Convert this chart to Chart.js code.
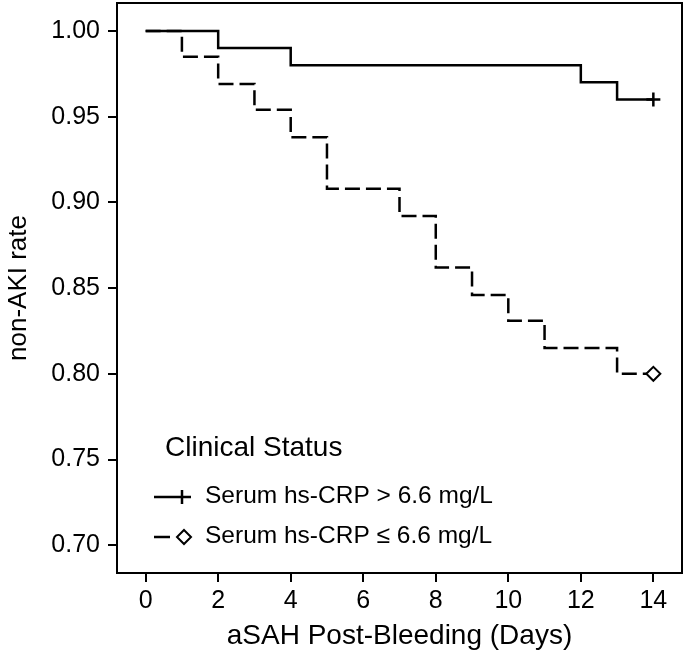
<!DOCTYPE html>
<html lang="en">
<head>
    <meta charset="UTF-8">
    <title>non-AKI rate by hs-CRP</title>
    <script src="https://cdn.jsdelivr.net/npm/chart.js"></script>
    <style>
        html, body { margin: 0; padding: 0; background: #fff; }
        #wrap { width: 685px; height: 653px; }
    </style>
</head>
<body>
    <div id="wrap"><canvas id="kmChart" width="685" height="653"></canvas></div>

    <script>
        // Kaplan-Meier style steps
        const highDays = [0, 2, 4, 12, 13, 14];
        const highRate = [1.00, 0.99, 0.98, 0.97, 0.96, 0.96];

        const lowDays = [0, 1, 2, 3, 4, 5, 7, 8, 9, 10, 11, 13, 14];
        const lowRate = [1.00, 0.985, 0.969, 0.954, 0.938, 0.908, 0.892, 0.862, 0.846, 0.831, 0.815, 0.800, 0.800];

        const xTicks = [0, 2, 4, 6, 8, 10, 12, 14];
        const yTicks = [0.70, 0.75, 0.80, 0.85, 0.90, 0.95, 1.00];

        const legendTitle = 'Clinical Status';
        const legendLabels = ['Serum hs-CRP > 6.6 mg/L', 'Serum hs-CRP \u2264 6.6 mg/L'];

        const FONT = '"Liberation Sans", Arial, Helvetica, sans-serif';

        const toPoints = (xs, ys) => xs.map((x, i) => ({ x: x, y: ys[i] }));
        const lastOnly = (n, r) => ctx => ctx.dataIndex === n - 1 ? r : 0;

        // box around plot + legend inside the plot
        const frameAndLegend = {
            id: 'frameAndLegend',
            afterDraw(chart) {
                const c = chart.ctx;
                const a = chart.chartArea;
                c.save();
                c.strokeStyle = '#000';
                c.lineWidth = 2;
                c.strokeRect(a.left, a.top, a.right - a.left, a.bottom - a.top);

                c.fillStyle = '#000';
                c.textBaseline = 'middle';
                c.font = '28px ' + FONT;
                c.fillText(legendTitle, 165, 448);

                c.font = '24.5px ' + FONT;
                c.fillText(legendLabels[0], 205, 496);
                c.fillText(legendLabels[1], 205, 536);

                // solid line + cross
                c.lineWidth = 2.5;
                c.beginPath();
                c.moveTo(154, 497); c.lineTo(191, 497);
                c.moveTo(182, 490); c.lineTo(182, 504);
                c.stroke();

                // short dash + diamond
                c.beginPath();
                c.moveTo(154, 537); c.lineTo(170, 537);
                c.stroke();
                c.lineWidth = 2;
                c.beginPath();
                c.moveTo(184, 530); c.lineTo(191, 537); c.lineTo(184, 544); c.lineTo(177, 537); c.closePath();
                c.fillStyle = '#fff';
                c.fill();
                c.stroke();
                c.restore();
            }
        };

        new Chart(document.getElementById('kmChart'), {
            type: 'line',
            data: {
                datasets: [{
                    label: legendLabels[0],
                    data: toPoints(highDays, highRate),
                    borderColor: '#000',
                    borderWidth: 2.5,
                    stepped: 'before',
                    fill: false,
                    pointStyle: 'cross',
                    pointRadius: lastOnly(highDays.length, 7),
                    pointBorderColor: '#000',
                    pointBorderWidth: 2.5
                }, {
                    label: legendLabels[1],
                    data: toPoints(lowDays, lowRate),
                    borderColor: '#000',
                    borderWidth: 2.5,
                    borderDash: [15, 6],
                    stepped: 'before',
                    fill: false,
                    pointStyle: 'rectRot',
                    pointRadius: lastOnly(lowDays.length, 7),
                    pointBackgroundColor: '#fff',
                    pointBorderColor: '#000',
                    pointBorderWidth: 2
                }]
            },
            options: {
                responsive: false,
                animation: false,
                layout: { autoPadding: false, padding: { top: 3, right: 3, left: 0, bottom: 0 } },
                plugins: {
                    legend: { display: false },
                    tooltip: { enabled: false }
                },
                scales: {
                    x: {
                        type: 'linear',
                        min: -0.79,
                        max: 14.79,
                        afterBuildTicks: s => { s.ticks = xTicks.map(v => ({ value: v })); },
                        afterFit: s => { s.height = 80; s.paddingLeft = 0; s.paddingRight = 0; },
                        grid: { drawOnChartArea: false, drawTicks: true, tickLength: 9, color: '#000', lineWidth: 2 },
                        border: { display: false },
                        ticks: { color: '#000', padding: 4, font: { family: FONT, size: 25 } },
                        title: { display: true, text: 'aSAH Post-Bleeding (Days)', color: '#000', padding: { top: 0, bottom: 0 }, font: { family: FONT, size: 28 } }
                    },
                    y: {
                        type: 'linear',
                        min: 0.6838,
                        max: 1.0163,
                        afterBuildTicks: s => { s.ticks = yTicks.map(v => ({ value: v })); },
                        afterFit: s => { s.width = 117; s.paddingTop = 0; s.paddingBottom = 0; },
                        grid: { drawOnChartArea: false, drawTicks: true, tickLength: 9, color: '#000', lineWidth: 2 },
                        border: { display: false },
                        ticks: { color: '#000', padding: 8, font: { family: FONT, size: 25 }, callback: v => v.toFixed(2) },
                        title: { display: true, text: 'non-AKI rate', color: '#000', padding: { top: 3, bottom: 0 }, font: { family: FONT, size: 26 } }
                    }
                }
            },
            plugins: [frameAndLegend]
        });
    </script>
</body>
</html>
